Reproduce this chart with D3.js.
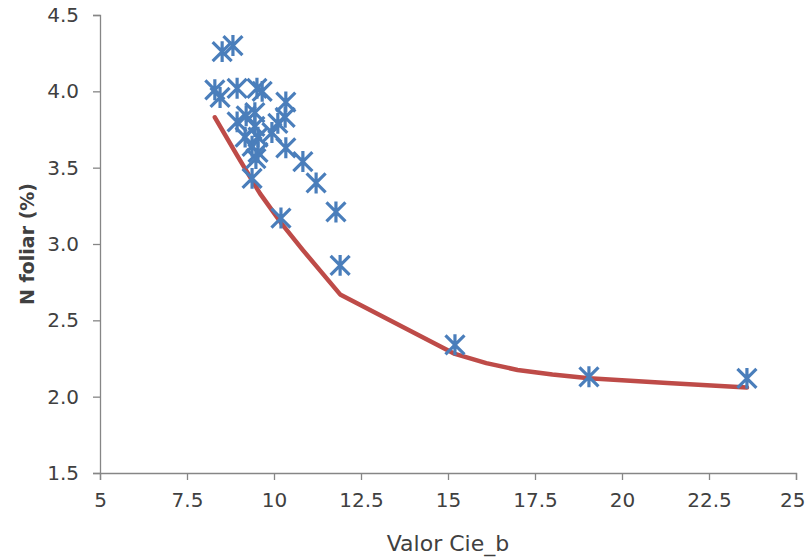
<!DOCTYPE html>
<html>
<head>
<meta charset="utf-8">
<script src="https://cdn.jsdelivr.net/npm/d3@7"></script>
<style>
  html, body { margin: 0; padding: 0; background: #fff; }
  svg text { font-family: "DejaVu Sans", sans-serif; fill: #404040; }
</style>
</head>
<body>
<svg id="chart" width="805" height="558"></svg>
<script>
// Observed samples: Cie b* colour value vs. foliar nitrogen (%)
const cieB = [8.30, 8.45, 8.51, 8.82, 8.94, 9.51, 9.66, 10.34, 8.94, 9.20,
              10.32, 10.11, 9.45, 9.17, 9.54, 9.94, 10.34, 9.37, 9.54, 9.48,
              9.37, 10.83, 11.21, 10.20, 11.78, 11.90, 15.20, 19.05, 23.59, 9.45];
const nFoliar = [4.01, 3.96, 4.26, 4.30, 4.02, 4.02, 4.00, 3.93, 3.80, 3.84,
                 3.83, 3.79, 3.77, 3.70, 3.70, 3.73, 3.63, 3.64, 3.60, 3.56,
                 3.43, 3.54, 3.40, 3.17, 3.21, 2.86, 2.34, 2.13, 2.12, 3.86];

// Fitted trend curve
const fitX = [8.30, 8.94, 9.60, 10.23, 10.83, 11.90, 15.20, 16.10, 17.00, 18.00, 19.05, 21.30, 23.59];
const fitY = [3.83, 3.58, 3.33, 3.13, 2.96, 2.67, 2.28, 2.22, 2.175, 2.145, 2.12, 2.09, 2.06];

const xTicks = [5, 7.5, 10, 12.5, 15, 17.5, 20, 22.5, 25];
const yTicks = [1.5, 2.0, 2.5, 3.0, 3.5, 4.0, 4.5];

const svg = d3.select("#chart");
const margin = { left: 100, right: 9, top: 15, bottom: 85 };
const W = 805, H = 558;

const x = d3.scaleLinear().domain([5, 25]).range([margin.left, W - margin.right]);
const y = d3.scaleLinear().domain([1.5, 4.5]).range([H - margin.bottom, margin.top]);

const axisColor = "#868686";

// Y axis
const gy = svg.append("g")
  .attr("transform", `translate(${x(5)},0)`)
  .call(d3.axisLeft(y).tickValues(yTicks).tickSize(7).tickPadding(14)
        .tickFormat(d => d.toFixed(1)));
// X axis
const gx = svg.append("g")
  .attr("transform", `translate(0,${y(1.5)})`)
  .call(d3.axisBottom(x).tickValues(xTicks).tickSize(7).tickPadding(13)
        .tickFormat(d => (d % 1 ? d.toFixed(1) : String(d))));

[gx, gy].forEach(g => {
  g.select(".domain").attr("stroke", axisColor).attr("stroke-width", 1.3);
  g.selectAll(".tick line").attr("stroke", axisColor).attr("stroke-width", 1.3);
  g.selectAll(".tick text").attr("font-size", 20)
    .attr("font-family", "'DejaVu Sans', sans-serif").attr("fill", "#404040");
});
// keep the last x label inside the canvas
gx.selectAll(".tick text").filter(d => d === 25).attr("text-anchor", "end").attr("dx", 9);

// Axis titles
svg.append("text")
  .attr("x", (x(5) + x(25)) / 2).attr("y", 551)
  .attr("text-anchor", "middle").attr("font-size", 22)
  .text("Valor Cie_b");

svg.append("text")
  .attr("transform", `translate(34,${(y(1.5) + y(4.5)) / 2}) rotate(-90)`)
  .attr("text-anchor", "middle").attr("font-size", 19).attr("font-weight", "bold")
  .attr("font-family", "'Open Sans', sans-serif")
  .text("N foliar (%)");

// Trend line
const fitPts = fitX.map((v, i) => [v, fitY[i]]);
svg.append("path")
  .datum(fitPts)
  .attr("fill", "none")
  .attr("stroke", "#be4b48")
  .attr("stroke-width", 4.5)
  .attr("stroke-linecap", "round")
  .attr("stroke-linejoin", "round")
  .attr("d", d3.line().x(d => x(d[0])).y(d => y(d[1])));

// Star markers
const r = 9.5;
const star = `M${-r},${-r}L${r},${r}M${-r},${r}L${r},${-r}M0,${-r * 1.1}L0,${r * 1.1}`;
svg.append("g").selectAll("path")
  .data(cieB.map((v, i) => [v, nFoliar[i]]))
  .join("path")
  .attr("transform", d => `translate(${x(d[0])},${y(d[1])})`)
  .attr("d", star)
  .attr("fill", "none")
  .attr("stroke", "#4a7ebb")
  .attr("stroke-width", 3.2);
</script>
</body>
</html>
